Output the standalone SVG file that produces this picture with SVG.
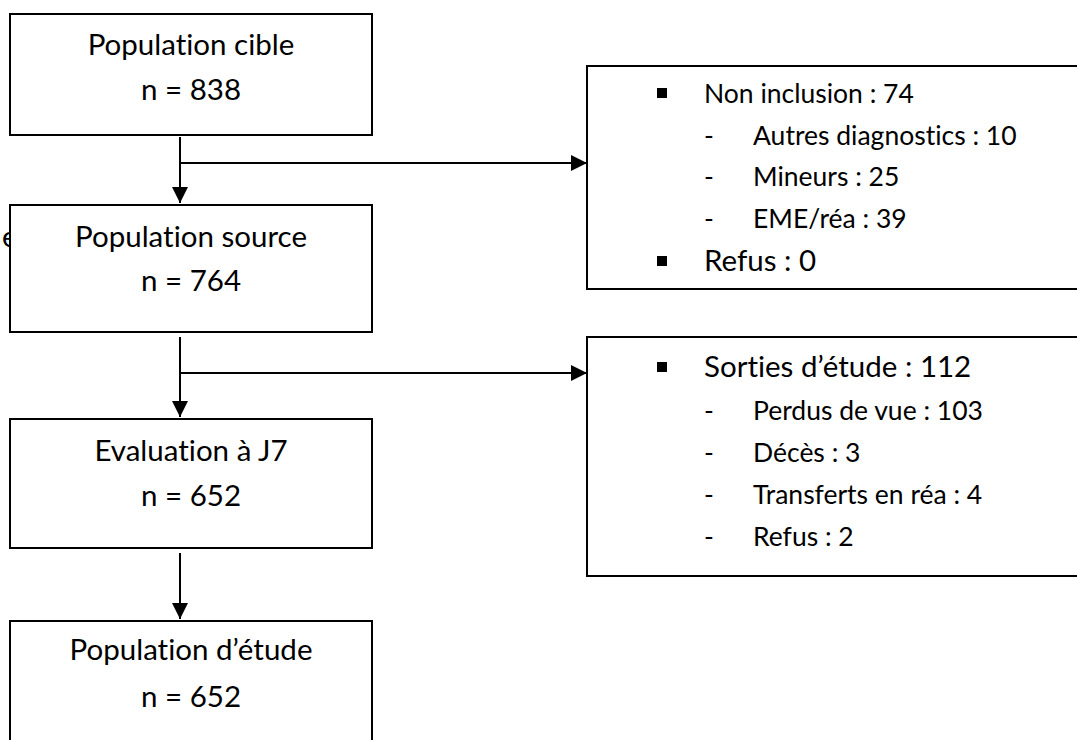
<svg xmlns="http://www.w3.org/2000/svg" width="1077" height="740" viewBox="0 0 1077 740">
<defs>
<marker id="ah" markerUnits="userSpaceOnUse" markerWidth="16" markerHeight="16" refX="16" refY="8" orient="auto">
<path d="M0,0 L16,8 L0,16 Z" fill="#000"/>
</marker>
<style>
.box{fill:#fff;stroke:#000;stroke-width:2}
.ln{fill:none;stroke:#000;stroke-width:2;marker-end:url(#ah)}
.t{font-family:Lato,"Liberation Sans",sans-serif;fill:#000;font-variant-ligatures:none}
.big{font-size:29.5px}
.sm{font-size:26.5px}
.c{text-anchor:middle}
.bul{fill:#000}
</style>
</defs>
<rect width="1077" height="740" fill="#fff"/>
<text class="t big" x="2" y="247">e</text>
<g id="connectors">
<path class="ln" d="M180,137 V203"/>
<path class="ln" d="M180,163 H587"/>
<path class="ln" d="M180,337 V417"/>
<path class="ln" d="M180,373 H587"/>
<path class="ln" d="M180,553 V619"/>
</g>
<g id="n1">
<rect class="box" x="10" y="14" width="362" height="121"/>
<text class="t big c" x="191" y="55">Population cible</text>
<text class="t big c" x="191" y="100">n = 838</text>
</g>
<g id="n2">
<rect class="box" x="10" y="205" width="362" height="127"/>
<text class="t big c" x="191" y="247">Population source</text>
<text class="t big c" x="191" y="291">n = 764</text>
</g>
<g id="n3">
<rect class="box" x="10" y="419" width="362" height="129"/>
<text class="t big c" x="191" y="461">Evaluation à J7</text>
<text class="t big c" x="191" y="506">n = 652</text>
</g>
<g id="n4">
<rect class="box" x="10" y="621" width="362" height="140"/>
<text class="t big c" x="191" y="660">Population d’étude</text>
<text class="t big c" x="191" y="707">n = 652</text>
</g>
<g id="r1">
<rect class="box" x="587" y="66" width="520" height="223"/>
<rect class="bul" x="657" y="88" width="10" height="10"/>
<text class="t sm" x="704" y="103">Non inclusion : 74</text>
<text class="t sm" x="704" y="145">-</text>
<text class="t sm" x="753" y="145">Autres diagnostics : 10</text>
<text class="t sm" x="704" y="186">-</text>
<text class="t sm" x="753" y="186">Mineurs : 25</text>
<text class="t sm" x="704" y="228">-</text>
<text class="t sm" x="753" y="228">EME/réa : 39</text>
<rect class="bul" x="657" y="256" width="10" height="10"/>
<text class="t big" x="704" y="271">Refus : 0</text>
</g>
<g id="r2">
<rect class="box" x="587" y="337" width="520" height="239"/>
<rect class="bul" x="657" y="362" width="10" height="10"/>
<text class="t big" x="704" y="377">Sorties d’étude : 112</text>
<text class="t sm" x="704" y="420">-</text>
<text class="t sm" x="753" y="420">Perdus de vue : 103</text>
<text class="t sm" x="704" y="462">-</text>
<text class="t sm" x="753" y="462">Décès : 3</text>
<text class="t sm" x="704" y="504">-</text>
<text class="t sm" x="753" y="504">Transferts en réa : 4</text>
<text class="t sm" x="704" y="546">-</text>
<text class="t sm" x="753" y="546">Refus : 2</text>
</g>
</svg>
